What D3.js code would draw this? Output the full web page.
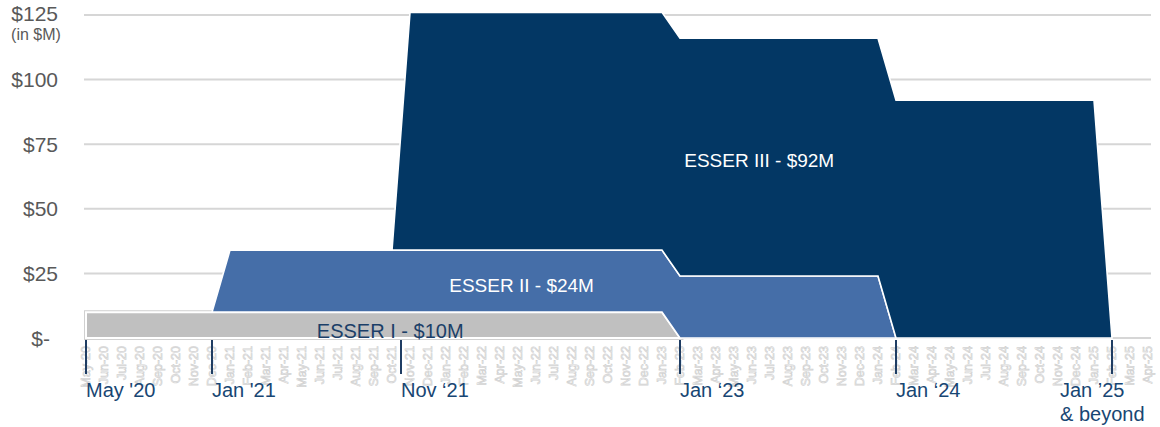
<!DOCTYPE html>
<html>
<head>
<meta charset="utf-8">
<script src="https://cdn.jsdelivr.net/npm/d3@7"></script>
<style>
  html, body { margin: 0; padding: 0; background: #fff; }
  svg { display: block; font-family: "Liberation Sans", Arial, sans-serif; }
</style>
</head>
<body>
<svg id="chart" width="1160" height="427"></svg>
<script>
// ---- data ----
const months = [
  "May-20","Jun-20","Jul-20","Aug-20","Sep-20","Oct-20","Nov-20","Dec-20",
  "Jan-21","Feb-21","Mar-21","Apr-21","May-21","Jun-21","Jul-21","Aug-21","Sep-21","Oct-21","Nov-21","Dec-21",
  "Jan-22","Feb-22","Mar-22","Apr-22","May-22","Jun-22","Jul-22","Aug-22","Sep-22","Oct-22","Nov-22","Dec-22",
  "Jan-23","Feb-23","Mar-23","Apr-23","May-23","Jun-23","Jul-23","Aug-23","Sep-23","Oct-23","Nov-23","Dec-23",
  "Jan-24","Feb-24","Mar-24","Apr-24","May-24","Jun-24","Jul-24","Aug-24","Sep-24","Oct-24","Nov-24","Dec-24",
  "Jan-25","Feb-25","Mar-25","Apr-25"
];
const esser1 = [10,10,10,10,10,10,10,10, 10,10,10,10,10,10,10,10,10,10,10,10, 10,10,10,10,10,10,10,10,10,10,10,10,
  10,0,0,0,0,0,0,0,0,0,0,0, 0,0,0,0,0,0,0,0,0,0,0,0, 0,0,0,0];
const esser2 = [0,0,0,0,0,0,0,0, 24,24,24,24,24,24,24,24,24,24,24,24, 24,24,24,24,24,24,24,24,24,24,24,24,
  24,24,24,24,24,24,24,24,24,24,24,24, 24,0,0,0,0,0,0,0,0,0,0,0, 0,0,0,0];
const esser3 = [0,0,0,0,0,0,0,0, 0,0,0,0,0,0,0,0,0,0,92,92, 92,92,92,92,92,92,92,92,92,92,92,92,
  92,92,92,92,92,92,92,92,92,92,92,92, 92,92,92,92,92,92,92,92,92,92,92,92, 92,0,0,0];
const seriesNames = ["ESSER I - $10M", "ESSER II - $24M", "ESSER III - $92M"];
const yTicks = [0, 25, 50, 75, 100, 125];
const markerPos = [0, 7, 17.5, 33, 45, 57];
const markerLabels = [["May '20"], ["Jan '21"], ["Nov \u201821"], ["Jan \u201823"], ["Jan \u201824"], ["Jan \u201925", "& beyond"]];

// ---- layout ----
const svg = d3.select("#chart");
const x = d3.scaleLinear().domain([0, months.length - 1]).range([86, 1148]);
const y = d3.scaleLinear().domain([0, 125]).range([338, 15]);
const colors = ["#c0c0c0", "#456ea8", "#033764"];

// gridlines
svg.append("g").selectAll("line").data(yTicks).join("line")
  .attr("x1", 84).attr("x2", 1151)
  .attr("y1", d => y(d)).attr("y2", d => y(d))
  .attr("stroke", "#d6d6d6").attr("stroke-width", 2);

// y axis labels
const yAxis = d3.axisLeft(y).tickValues(yTicks).tickSize(0).tickPadding(0)
  .tickFormat(d => d === 0 ? "$-" : "$" + d);
const yg = svg.append("g").attr("transform", "translate(58,0)").call(yAxis);
yg.select(".domain").remove();
yg.selectAll("text")
  .attr("font-size", 21).attr("fill", "#595959")
  .attr("font-family", "Liberation Sans, Arial, sans-serif")
  .attr("dy", d => d === 125 ? 5 : 7).attr("x", d => d === 0 ? -8 : 0);
svg.append("text").attr("x", 36).attr("y", 40).attr("text-anchor", "middle")
  .attr("font-size", 16).attr("fill", "#595959").text("(in $M)");

// stacked areas
const table = months.map((m, i) => ({ i, m, s1: esser1[i], s2: esser2[i], s3: esser3[i] }));
const keys = ["s1", "s2", "s3"];
const stacked = d3.stack().keys(keys)(table);
const vals = [esser1, esser2, esser3];

stacked.forEach((layer, k) => {
  const v = vals[k];
  const area = d3.area()
    .defined((d, i) => v[i] > 0 || (i > 0 && v[i - 1] > 0) || (i < v.length - 1 && v[i + 1] > 0))
    .x((d, i) => x(i)).y0(d => y(d[0])).y1(d => y(d[1]));
  if (k === 0) {
    svg.append("path").datum(layer).attr("d", area)
      .attr("fill", "none").attr("stroke", "#d0d0d0").attr("stroke-width", 4)
      .attr("stroke-linejoin", "miter");
  }
  svg.append("path").datum(layer).attr("d", area)
    .attr("fill", colors[k]).attr("stroke", "#fff").attr("stroke-width", k === 0 ? 2 : 1.6)
    .attr("stroke-linejoin", "miter");
});

// series labels
const labelSpecs = [
  { t: seriesNames[0], xi: 16.9, v: -0.05, size: 20, fill: "#1b3f68" },
  { t: seriesNames[1], xi: 24.2, v: 17.8, size: 19, fill: "#ffffff" },
  { t: seriesNames[2], xi: 37.4, v: 66.3, size: 19, fill: "#ffffff" }
];
svg.append("g").selectAll("text").data(labelSpecs).join("text")
  .attr("x", d => x(d.xi)).attr("y", d => y(d.v))
  .attr("text-anchor", "middle").attr("font-size", d => d.size).attr("fill", d => d.fill)
  .text(d => d.t);

// ghost month labels
svg.append("g").selectAll("text").data(months).join("text")
  .attr("transform", (d, i) => `translate(${x(i)},346) rotate(-90)`)
  .attr("text-anchor", "end").attr("dy", "0.35em")
  .attr("font-size", 12.5).attr("fill", "#fff").attr("stroke", "#d2d2d2").attr("stroke-width", 0.7)
  .text(d => d);

// period markers
svg.append("g").selectAll("line").data(markerPos).join("line")
  .attr("x1", d => x(d)).attr("x2", d => x(d))
  .attr("y1", 340).attr("y2", 374)
  .attr("stroke", "#1f3d63").attr("stroke-width", 2);

const mg = svg.append("g").selectAll("text").data(markerPos).join("text")
  .attr("x", (d, i) => x(d) + (i === markerPos.length - 1 ? -52 : 0))
  .attr("y", 397).attr("font-size", 20).attr("fill", "#184673");
mg.selectAll("tspan").data((d, i) => markerLabels[i]).join("tspan")
  .attr("x", function () { return d3.select(this.parentNode).attr("x"); })
  .attr("dy", (d, j) => j === 0 ? 0 : 24)
  .text(d => d);
</script>
</body>
</html>
